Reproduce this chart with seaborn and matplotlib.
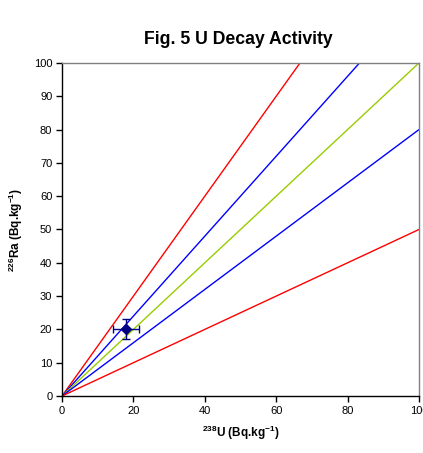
import matplotlib
matplotlib.use("Agg")
import matplotlib.pyplot as plt
import seaborn as sns
import pandas as pd
import numpy as np

# Data
ratio_slopes = [1.5, 1.2, 1.0, 0.8, 0.5]
ratio_colors = ["#FF0000", "#0000FF", "#99CC00", "#0000FF", "#FF0000"]
x_ends = [0, 100]
sample_u = [18]
sample_ra = [20]
sample_u_err = [3.7]
sample_ra_err = [3.0]
x_ticks = [0, 20, 40, 60, 80, 100]
y_ticks = [0, 10, 20, 30, 40, 50, 60, 70, 80, 90, 100]

sns.set_style("white")
plt.rcParams["font.family"] = ["Liberation Sans", "DejaVu Sans"]
plt.rcParams["mathtext.fontset"] = "custom"
plt.rcParams["mathtext.rm"] = "Liberation Sans:bold"
plt.rcParams["mathtext.default"] = "rm"
plt.rcParams["text.color"] = "black"
plt.rcParams["axes.labelcolor"] = "black"
plt.rcParams["xtick.color"] = "black"
plt.rcParams["ytick.color"] = "black"

fig = plt.figure(figsize=(4.23, 4.53), dpi=100)
ax = fig.add_axes([0.1466, 0.1258, 0.8439, 0.7352])

rows = []
for i, s in enumerate(ratio_slopes):
    for x in x_ends:
        rows.append({"u": x, "ra": s * x, "line": f"r{i}"})
df = pd.DataFrame(rows)
sns.lineplot(data=df, x="u", y="ra", hue="line", palette=ratio_colors,
             legend=False, ax=ax, linewidth=1.0)

ax.errorbar(sample_u, sample_ra, xerr=sample_u_err, yerr=sample_ra_err,
            fmt="D", color="#000080", markersize=5.5, ecolor="#000080",
            elinewidth=1.0, capsize=3, capthick=1.0, zorder=5)

ax.set_xlim(0, 100)
ax.set_ylim(0, 100)
ax.set_xticks(x_ticks)
ax.set_yticks(y_ticks)
ax.tick_params(axis="both", direction="out", length=4, width=1, color="black",
               labelcolor="black", labelsize=8, pad=3, bottom=True, left=True)
for name, sp in ax.spines.items():
    sp.set_color("#808080")
    sp.set_linewidth(1.0)
ax.spines["left"].set_color("black")
ax.spines["bottom"].set_color("black")

ax.set_xlabel("$^{238}$U (Bq.kg$^{-1}$)", fontsize=8.5, fontweight="bold",
              labelpad=6, color="black")
ax.set_ylabel("$^{226}$Ra (Bq.kg$^{-1}$)", fontsize=8.5, fontweight="bold",
              labelpad=6, color="black")
fig.text(0.563, 0.912, "Fig. 5 U Decay Activity", ha="center", va="center",
         fontsize=12.7, fontweight="bold", color="black")

fig.savefig("out.png", dpi=100)
